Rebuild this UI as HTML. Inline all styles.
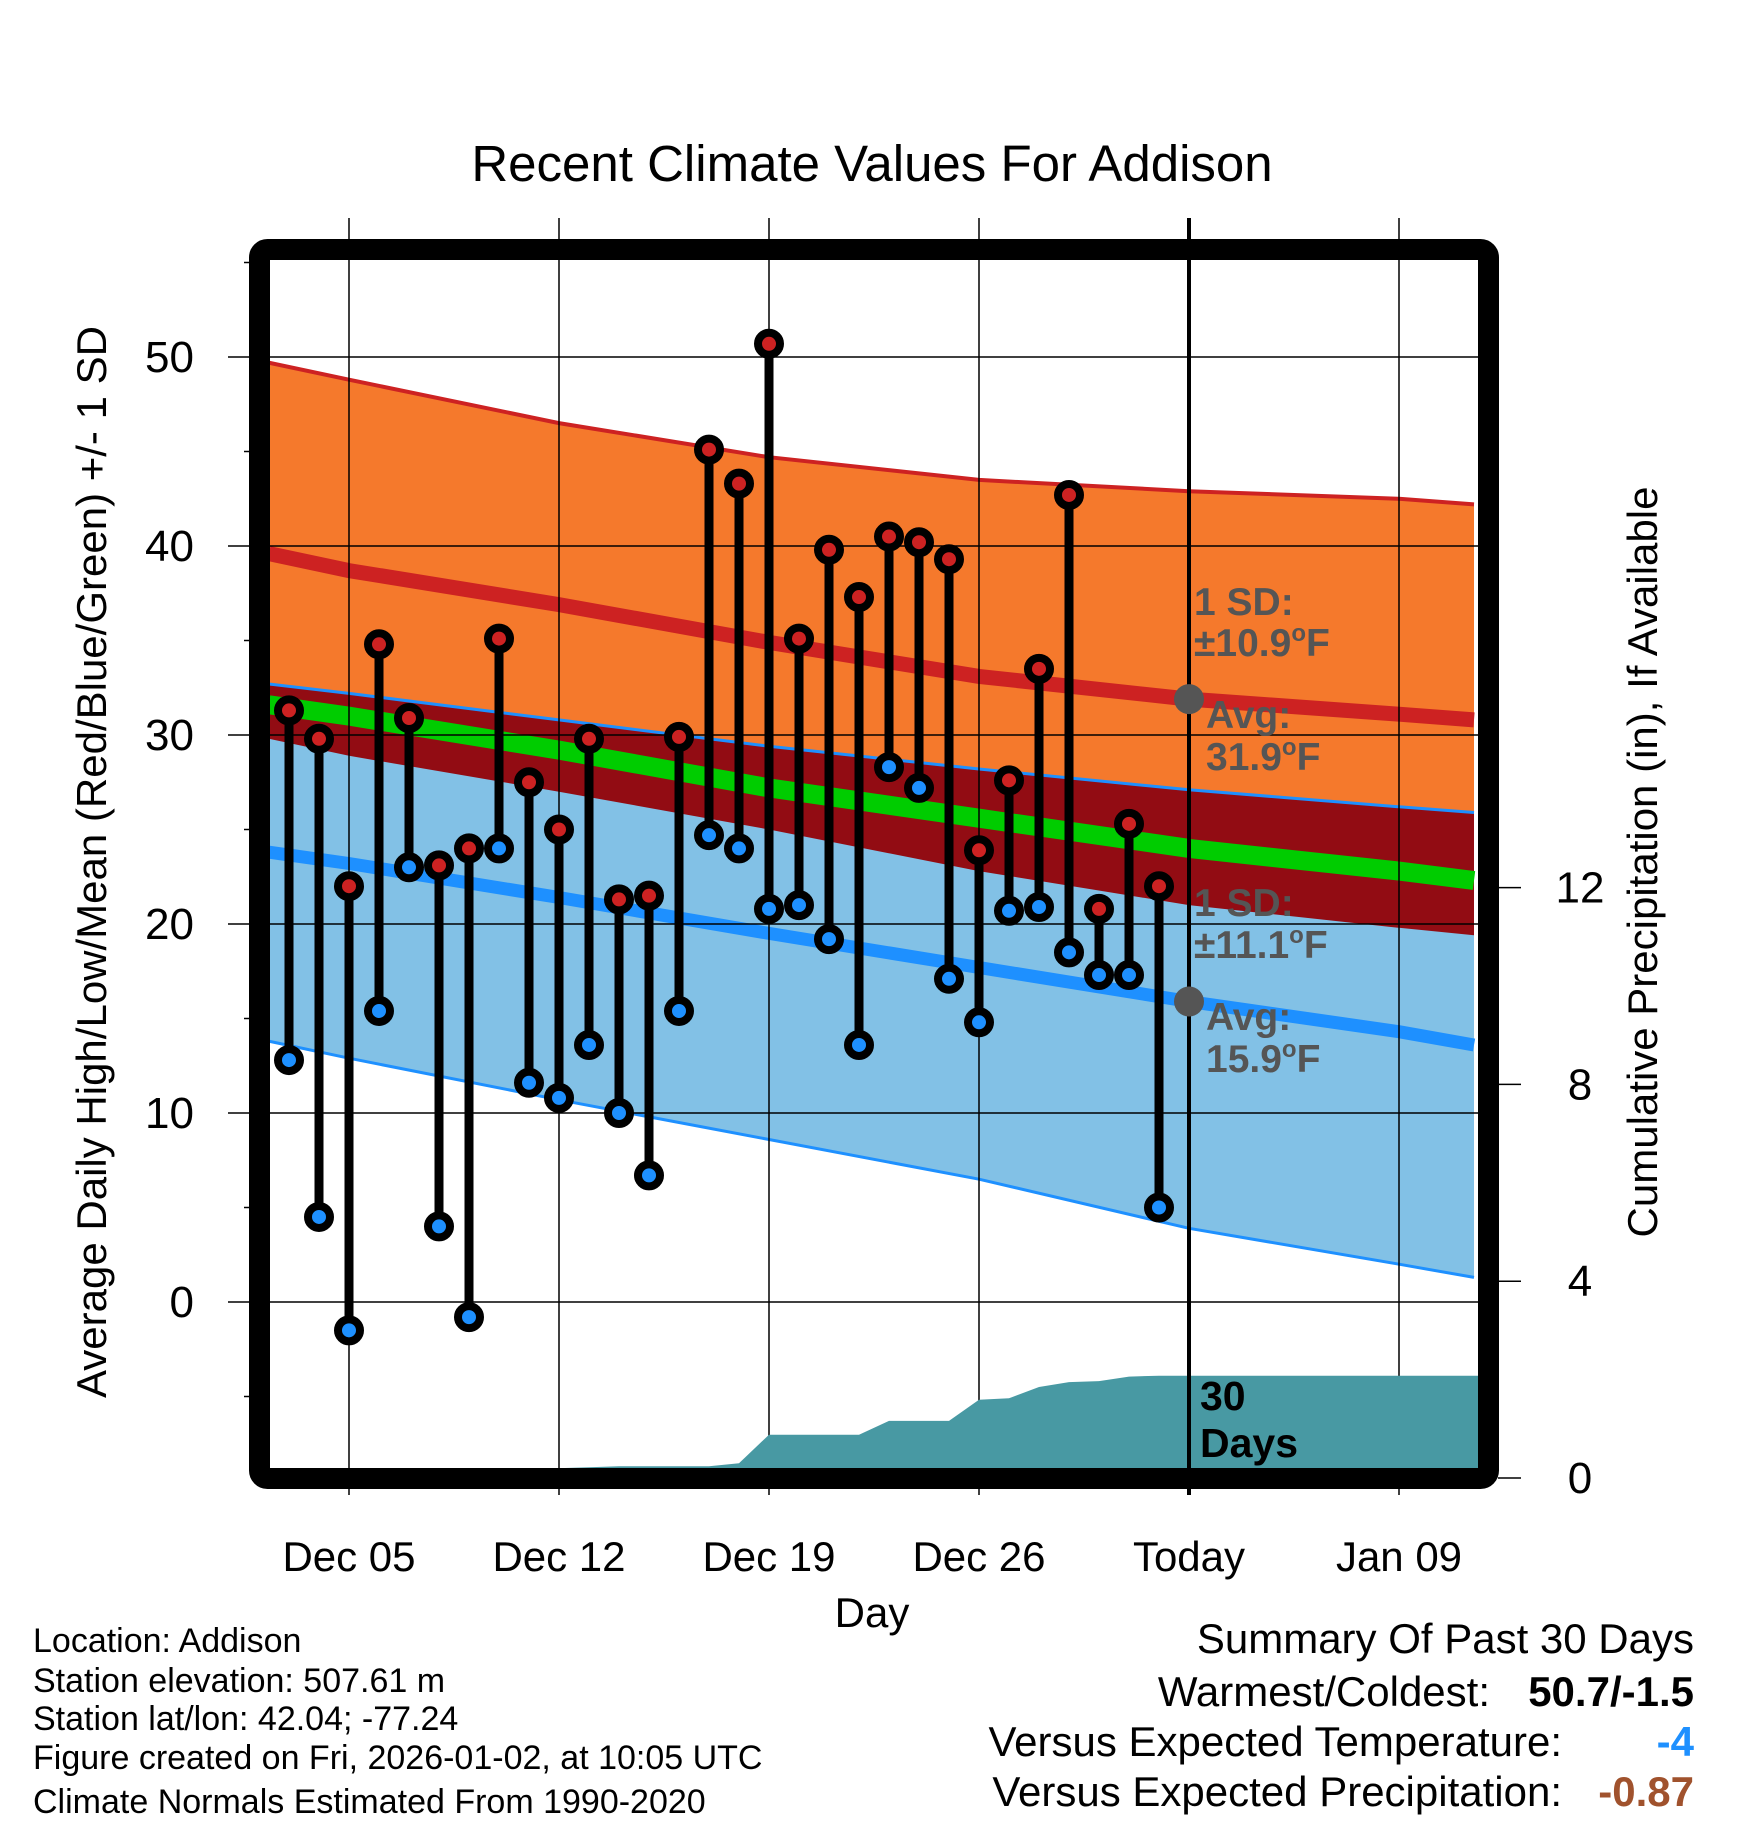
<!DOCTYPE html>
<html><head><meta charset="utf-8"><style>
body{margin:0;background:#fff;}
svg text{font-family:"Liberation Sans",sans-serif;}
</style></head><body>
<svg id="chart" width="1748" height="1828" viewBox="0 0 1748 1828" xmlns="http://www.w3.org/2000/svg">
<text x="872" y="181" font-size="51" text-anchor="middle">Recent Climate Values For Addison</text>
<defs><clipPath id="plotclip"><rect x="270" y="260" width="1208" height="1208"/></clipPath></defs>
<g id="bands" clip-path="url(#plotclip)"></g>
<g id="grid"></g>
<g id="precip" clip-path="url(#plotclip)"></g>
<g id="annot"></g>
<g id="marks"></g>
<rect x="259.5" y="249.5" width="1229" height="1229" rx="8" fill="none" stroke="#000" stroke-width="21"/>
<text x="872" y="1627" font-size="42" text-anchor="middle">Day</text>
<text transform="translate(106,862) rotate(-90)" font-size="42" text-anchor="middle">Average Daily High/Low/Mean (Red/Blue/Green) +/- 1 SD</text>
<text transform="translate(1657,862) rotate(-90)" font-size="42" text-anchor="middle">Cumulative Precipitation (in), If Available</text>
<g font-size="34">
<text x="33" y="1652">Location: Addison</text>
<text x="33" y="1692">Station elevation: 507.61 m</text>
<text x="33" y="1730">Station lat/lon: 42.04; -77.24</text>
<text x="33" y="1769">Figure created on Fri, 2026-01-02, at 10:05 UTC</text>
<text x="33" y="1813">Climate Normals Estimated From 1990-2020</text>
</g>
<g font-size="42">
<text x="1694" y="1653" text-anchor="end">Summary Of Past 30 Days</text>
<text x="1490" y="1706" text-anchor="end">Warmest/Coldest:</text>
<text x="1694" y="1706" text-anchor="end" font-weight="bold">50.7/-1.5</text>
<text x="1562" y="1756" text-anchor="end">Versus Expected Temperature:</text>
<text x="1694" y="1756" text-anchor="end" font-weight="bold" fill="#1e90ff">-4</text>
<text x="1562" y="1806" text-anchor="end">Versus Expected Precipitation:</text>
<text x="1694" y="1806" text-anchor="end" font-weight="bold" fill="#a0522d">-0.87</text>
</g>
</svg>
<script>
// data
const days = [3,4,5,6,7,8,9,10,11,12,13,14,15,16,17,18,19,20,21,22,23,24,25,26,27,28,29,30,31,32];
const highs = [31.3,29.8,22.0,34.8,30.9,23.1,24.0,35.1,27.5,25.0,29.8,21.3,21.5,29.9,45.1,43.3,50.7,35.1,39.8,37.3,40.5,40.2,39.3,23.9,27.6,33.5,42.7,20.8,25.3,22.0];
const lows = [12.8,4.5,-1.5,15.4,23.0,4.0,-0.8,24.0,11.6,10.8,13.6,10.0,6.7,15.4,24.7,24.0,20.8,21.0,19.2,13.6,28.3,27.2,17.1,14.8,20.7,20.9,18.5,17.3,17.3,5.0];
const normDays = [2.33,5,12,19,26,33,40,42.5];
const hiPlus = [49.7,48.8,46.5,44.7,43.5,42.9,42.5,42.2];
const hiMean = [39.6,38.7,36.9,34.9,33.1,31.9,31.1,30.8];
const hiMinus = [29.8,28.9,27.0,25.0,22.8,21.0,19.8,19.4];
const loPlus = [32.7,32.2,30.8,29.4,28.2,27.1,26.2,25.9];
const avgMean = [31.6,31.0,29.2,27.2,25.6,24.0,22.8,22.3];
const loMean = [23.8,23.2,21.4,19.5,17.7,15.9,14.3,13.6];
const loMinus = [13.8,12.9,10.7,8.6,6.5,3.9,2.0,1.3];
const precipDays = [1,12,13,14,15,16,17,18,19,20,21,22,23,24,25,26,27,28,29,30,31,32,33,43];
const precip = [0.2,0.2,0.22,0.24,0.24,0.24,0.24,0.3,0.88,0.88,0.88,0.88,1.16,1.16,1.16,1.59,1.62,1.85,1.95,1.97,2.06,2.08,2.08,2.08];
const xTickDays = [5,12,19,26,33,40];
const xTickLabels = ["Dec 05","Dec 12","Dec 19","Dec 26","Today","Jan 09"];
const yTicks = [0,10,20,30,40,50];
const y2Ticks = [0,4,8,12];

const NS="http://www.w3.org/2000/svg";
const X = d => 349 + (d-5)*30;
const Y = v => 357 + (50-v)*18.9;
const Y2 = p => 1478 - p*49.2;
function mk(tag, parent, attrs){const e=document.createElementNS(NS,tag);for(const k in attrs)e.setAttribute(k,attrs[k]);document.getElementById(parent).appendChild(e);return e;}
function pts(arr){return normDays.map((d,i)=>X(d)+","+Y(arr[i]).toFixed(1));}
function band(top,bot,fill,name){
  const p=pts(top).concat(pts(bot).reverse()).join(" ");
  const e=mk("polygon","bands",{points:p,fill:fill});
  
  
}
function line(arr,stroke,w,name){
  const e=mk("polyline","bands",{points:pts(arr).join(" "),fill:"none",stroke:stroke,"stroke-width":w});
  
  
}
band(hiPlus,hiMinus,"#f5792c","high-sd-band");
band(loPlus,loMinus,"#82c1e6","low-sd-band");
band(loPlus,hiMinus,"#920c13","overlap-band");
line(hiPlus,"#cd2222",4,"high-plus-sd-line");
line(loPlus,"#1e90ff",3,"low-plus-sd-line");
line(loMinus,"#1e90ff",3,"low-minus-sd-line");
line(hiMean,"#cd2222",15,"mean-high-line");
line(avgMean,"#00cc00",19,"mean-avg-line");
line(loMean,"#1e90ff",13,"mean-low-line");

// grid
xTickDays.forEach((d,i)=>{
  const g=mk("line","grid",{x1:X(d),x2:X(d),y1:218,y2:1495,stroke:"#000","stroke-width":d===33?4:1.5});
  
  
  const t=mk("text","grid",{x:X(d),y:1571,"font-size":42,"text-anchor":"middle"});
  t.textContent=xTickLabels[i];
  
  
});
yTicks.forEach(v=>{
  const g=mk("line","grid",{x1:228,x2:1478,y1:Y(v),y2:Y(v),stroke:"#000","stroke-width":1.5});
  
  
  const t=mk("text","grid",{x:194,y:Y(v)+15,"font-size":44,"text-anchor":"end"});
  t.textContent=v;
  
  
});
[-5,5,15,25,35,45,55].forEach(v=>{
  const g=mk("line","grid",{x1:244,x2:260,y1:Y(v),y2:Y(v),stroke:"#000","stroke-width":1.5});
  
  
});
y2Ticks.forEach(p=>{
  const g=mk("line","grid",{x1:1498,x2:1521,y1:Y2(p),y2:Y2(p),stroke:"#000","stroke-width":1.5});
  
  
  const t=mk("text","grid",{x:1580,y:Y2(p)+15,"font-size":44,"text-anchor":"middle"});
  t.textContent=p;
  
  
});

// precip
{
  let p=precipDays.map((d,i)=>X(d)+","+Y2(precip[i]).toFixed(1));
  p.push(X(43)+",1480",X(1)+",1480");
  const e=mk("polygon","precip",{points:p.join(" "),fill:"#4899a3"});
  
  
}
// today line on top of precip
{
  const e=mk("line","annot",{x1:X(33),x2:X(33),y1:260,y2:1468,stroke:"#000","stroke-width":4});
  
  
}
function txt(x,y,s,name,fill,size){const t=mk("text","annot",{x:x,y:y,"font-size":size||39,"font-weight":"bold",fill:fill||"#555"});t.innerHTML=s;return t;}
const deg="<tspan dy='-15' font-size='24'>o</tspan><tspan dy='15'>F</tspan>";
txt(1194,615,"1 SD:","high-sd-label");
txt(1194,656,"±10.9"+deg,"high-sd-value");
txt(1206,728,"Avg:","high-avg-label");
txt(1206,770,"31.9"+deg,"high-avg-value");
txt(1194,916,"1 SD:","low-sd-label");
txt(1194,958,"±11.1"+deg,"low-sd-value");
txt(1206,1030,"Avg:","low-avg-label");
txt(1206,1072,"15.9"+deg,"low-avg-value");
txt(1200,1410,"30","precip-days-label","#000",41);
txt(1200,1457,"Days","precip-days-label2","#000",41);
{
  const a=mk("circle","annot",{cx:X(33),cy:Y(31.9),r:15,fill:"#555"});
  
  
  const b=mk("circle","annot",{cx:X(33),cy:Y(15.9),r:15,fill:"#555"});
  
  
}

// stems and markers
days.forEach((d,i)=>{
  const s=mk("line","marks",{x1:X(d),x2:X(d),y1:Y(highs[i]),y2:Y(lows[i]),stroke:"#000","stroke-width":9});
  
  
});
days.forEach((d,i)=>{
  const h=mk("circle","marks",{cx:X(d),cy:Y(highs[i]),r:11,fill:"#cd2222",stroke:"#000","stroke-width":8});
  
  
  const l=mk("circle","marks",{cx:X(d),cy:Y(lows[i]),r:11,fill:"#1e90ff",stroke:"#000","stroke-width":8});
  
  
});
</script>
</body></html>
